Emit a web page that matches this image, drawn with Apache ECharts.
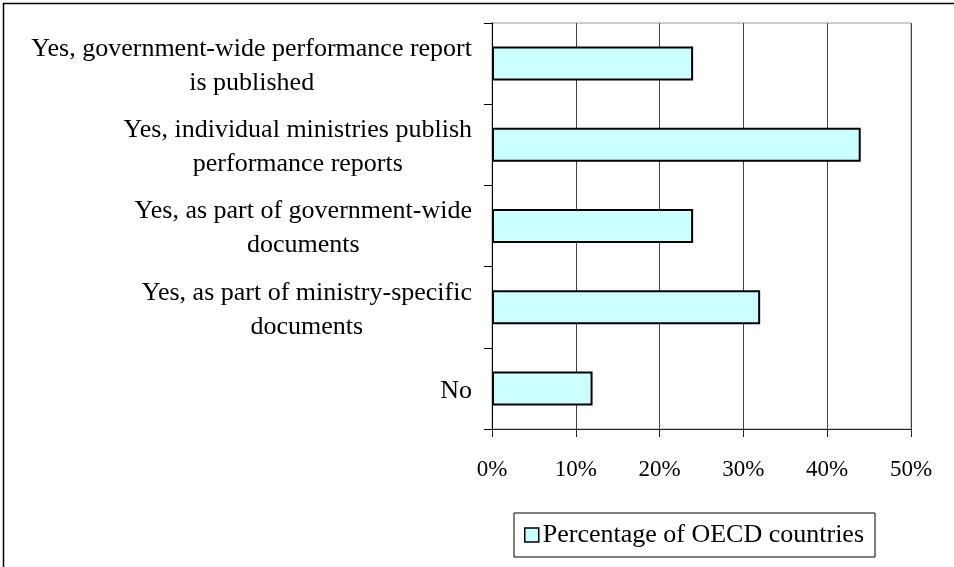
<!DOCTYPE html>
<html>
<head>
<meta charset="utf-8">
<script src="https://cdn.jsdelivr.net/npm/echarts@6/dist/echarts.min.js"></script>
<style>
  html, body { margin: 0; padding: 0; background: #fff; }
  #chart { width: 954px; height: 567px; }
</style>
</head>
<body>
<div id="chart"></div>
<script>
// Categories listed top to bottom
const categories = [
  'Yes, government-wide performance report\nis published',
  'Yes, individual ministries publish\nperformance reports',
  'Yes, as part of government-wide\ndocuments',
  'Yes, as part of ministry-specific\ndocuments',
  'No'
];
const seriesName = 'Percentage of OECD countries';
const values = [24, 44, 24, 32, 12];
const tickLabels = ['0%', '10%', '20%', '30%', '40%', '50%'];

const FONT = '"Liberation Serif", "DejaVu Serif", serif';

const chart = echarts.init(document.getElementById('chart'), null, { renderer: 'canvas' });

chart.setOption({
  backgroundColor: '#fff',
  animation: false,
  textStyle: { fontFamily: FONT, color: '#000' },
  grid: { left: 492, right: 43, top: 23, bottom: 138, show: true, borderColor: '#999', borderWidth: 1 },
  graphic: [{
    type: 'rect',
    shape: { x: 3.5, y: 3.5, width: 1200, height: 1200 },
    style: { fill: null, stroke: '#000', lineWidth: 1.5 },
    silent: true
  }],
  legend: {
    left: 514, top: 513,
    padding: [9, 11, 9, 10],
    borderColor: '#000', borderWidth: 1,
    itemWidth: 14, itemHeight: 14, itemGap: 8,
    icon: 'rect',
    itemStyle: { borderColor: '#000', borderWidth: 1.5 },
    textStyle: { fontFamily: FONT, fontSize: 26, color: '#000', padding: [0, 0, 0, -1] },
    data: [seriesName]
  },
  xAxis: {
    type: 'value',
    min: 0, max: 50, interval: 10,
    axisLine: { show: true, lineStyle: { color: '#222', width: 1 } },
    axisTick: { show: true, inside: false, length: 8, lineStyle: { color: '#222' } },
    axisLabel: {
      margin: 29,
      fontFamily: FONT, fontSize: 23, color: '#000',
      formatter: function (v) { return tickLabels[Math.round(v / 10)]; }
    },
    splitLine: { show: true, lineStyle: { color: '#444', width: 1 } }
  },
  yAxis: {
    type: 'category',
    inverse: true,
    data: categories,
    axisLine: { show: true, lineStyle: { color: '#000', width: 1 } },
    axisTick: { show: true, inside: false, length: 8, alignWithLabel: false, lineStyle: { color: '#000' } },
    axisLabel: {
      margin: 20,
      padding: [5, 0, 0, 0],
      fontFamily: FONT, fontSize: 26, color: '#000', lineHeight: 34,
      formatter: function (v) {
        return v.split('\n').map(function (s) { return '{c|' + s + '}'; }).join('\n');
      },
      rich: { c: { align: 'center', fontFamily: FONT, fontSize: 26, lineHeight: 34, color: '#000' } }
    },
    splitLine: { show: false }
  },
  series: [{
    name: seriesName,
    type: 'bar',
    data: values,
    barWidth: 34,
    itemStyle: { color: '#CCFFFF', borderColor: '#000', borderWidth: 2 }
  }]
});
</script>
</body>
</html>
